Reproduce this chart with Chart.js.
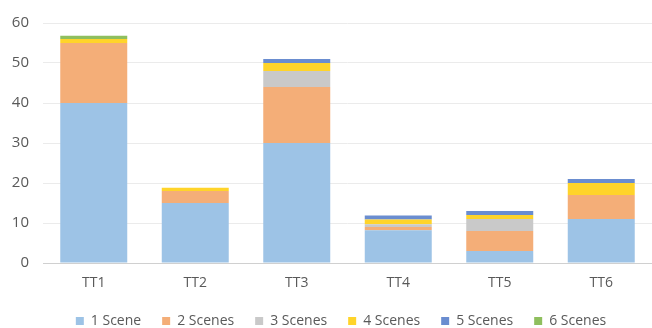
<!DOCTYPE html>
<html>
<head>
<meta charset="utf-8">
<script src="https://cdn.jsdelivr.net/npm/chart.js@4"></script>
<style>
  html, body { margin: 0; padding: 0; background: #fff; }
  #wrap { width: 652px; height: 328px; }
</style>
</head>
<body>
<div id="wrap"><canvas id="barChart" width="652" height="328"></canvas></div>
<script>
var labels = ['TT1', 'TT2', 'TT3', 'TT4', 'TT5', 'TT6'];
var scene1 = [40, 15, 30, 8.2, 3, 11];
var scene2 = [15, 3, 14, 0.8, 5, 6];
var scene3 = [0, 0, 4, 0.7, 3, 0];
var scene4 = [1, 0.8, 2, 1.2, 1, 3];
var scene5 = [0, 0, 1, 1, 1, 1];
var scene6 = [0.8, 0, 0, 0, 0, 0];
var yTicks = [0, 10, 20, 30, 40, 50, 60];

var barData = {
    labels: labels,
    datasets: [
        { label: '1 Scene', backgroundColor: '#9DC3E6', data: scene1 },
        { label: '2 Scenes', backgroundColor: '#F4AE78', data: scene2 },
        { label: '3 Scenes', backgroundColor: '#C9C9C9', data: scene3 },
        { label: '4 Scenes', backgroundColor: '#FFD42A', data: scene4 },
        { label: '5 Scenes', backgroundColor: '#6A8DD0', data: scene5 },
        { label: '6 Scenes', backgroundColor: '#8FBF5E', data: scene6 }
    ]
};

// original legend sits a little right of centre
var nudgeLegend = {
    id: 'nudgeLegend',
    afterLayout: function (chart) {
        chart.legend.left += 12;
        chart.legend.right += 12;
    }
};

var barOptions = {
    responsive: false,
    animation: false,
    layout: { padding: { left: 4, right: -2, top: 7, bottom: -10 } },
    datasets: { bar: { categoryPercentage: 0.66, barPercentage: 1 } },
    plugins: {
        tooltip: { enabled: false },
        legend: {
            position: 'bottom',
            labels: {
                color: '#595959',
                font: { family: 'Open Sans', size: 14 },
                boxWidth: 8,
                boxHeight: 8,
                padding: 21
            }
        }
    },
    scales: {
        x: {
            stacked: true,
            grid: { display: false, drawTicks: false },
            border: { color: '#D0D0D0', width: 1 },
            ticks: { color: '#595959', font: { family: 'Open Sans', size: 14 }, padding: 12 },
            afterFit: function (axis) { axis.height = 30; }
        },
        y: {
            stacked: true,
            min: 0,
            max: 60,
            afterBuildTicks: function (axis) {
                axis.ticks = yTicks.map(function (v) { return { value: v }; });
            },
            afterFit: function (axis) { axis.width = 39; },
            grid: { color: '#EBEBEB', drawTicks: false },
            border: { display: false },
            ticks: { color: '#595959', font: { family: 'Open Sans', size: 15 }, padding: 14 }
        }
    }
};

var ctx2 = document.getElementById('barChart').getContext('2d');
new Chart(ctx2, { type: 'bar', data: barData, options: barOptions, plugins: [nudgeLegend] });
</script>
</body>
</html>
